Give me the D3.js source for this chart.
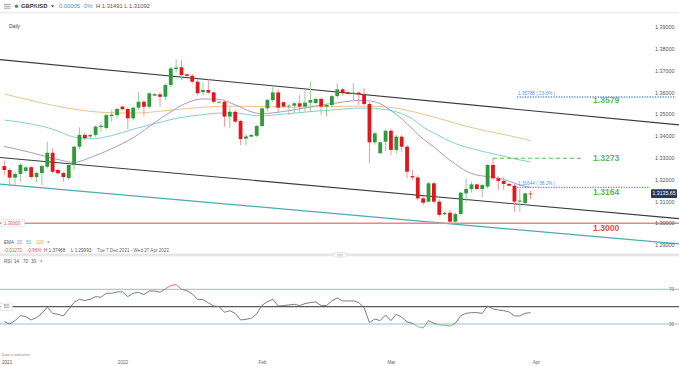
<!DOCTYPE html>
<html><head><meta charset="utf-8">
<script src="https://cdn.jsdelivr.net/npm/d3@7"></script>
<style>body{margin:0;background:#fff}svg{display:block;font-family:"Liberation Sans",Arial,sans-serif}</style>
</head><body><svg id="c" width="679" height="366"></svg>
<script>
// ---- data (daily candles, 7 Dec 2021 .. 31 Mar 2022, Saturdays excluded) ----
const openP  = [1.3262,1.3244,1.3209,1.3226,1.3240,1.3257,1.3212,1.3230,1.3259,1.3323,1.3244,1.3230,1.3207,1.3267,1.3351,1.3405,1.3398,1.3405,1.3441,1.3437,1.3492,1.3496,1.3535,1.3524,1.3481,1.3530,1.3557,1.3534,1.3585,1.3591,1.3580,1.3634,1.3707,1.3715,1.3683,1.3676,1.3649,1.3601,1.3611,1.3600,1.3553,1.3557,1.3489,1.3511,1.3469,1.3388,1.3397,1.3401,1.3446,1.3527,1.3565,1.3600,1.3555,1.3535,1.3539,1.3550,1.3535,1.3553,1.3551,1.3570,1.3535,1.3542,1.3583,1.3614,1.3600,1.3593,1.3599,1.3591,1.3547,1.3371,1.3321,1.3374,1.3424,1.3336,1.3397,1.3351,1.3216,1.3210,1.3114,1.3099,1.3183,1.3099,1.3041,1.3048,1.3007,1.3042,1.3137,1.3157,1.3178,1.3157,1.3168,1.3267,1.3206,1.3194,1.3180,1.3172,1.3099,1.3092,1.3136];
const highP  = [1.3287,1.3252,1.3236,1.3276,1.3262,1.3262,1.3238,1.3268,1.3374,1.3344,1.3248,1.3236,1.3270,1.3355,1.3440,1.3414,1.3410,1.3448,1.3465,1.3500,1.3519,1.3530,1.3538,1.3530,1.3535,1.3603,1.3565,1.3600,1.3596,1.3600,1.3640,1.3718,1.3752,1.3749,1.3687,1.3685,1.3660,1.3649,1.3660,1.3605,1.3560,1.3565,1.3534,1.3520,1.3475,1.3410,1.3408,1.3450,1.3530,1.3570,1.3626,1.3614,1.3558,1.3548,1.3555,1.3588,1.3611,1.3649,1.3575,1.3578,1.3550,1.3590,1.3642,1.3620,1.3604,1.3642,1.3605,1.3619,1.3555,1.3420,1.3375,1.3430,1.3435,1.3405,1.3405,1.3360,1.3244,1.3220,1.3125,1.3190,1.3190,1.3110,1.3052,1.3060,1.3050,1.3145,1.3205,1.3190,1.3182,1.3180,1.3272,1.3298,1.3215,1.3213,1.3185,1.3180,1.3157,1.3140,1.31491];
const lowP   = [1.3221,1.3167,1.3175,1.3190,1.3232,1.3203,1.3190,1.3175,1.3250,1.3229,1.3225,1.3190,1.3198,1.3244,1.3340,1.3380,1.3392,1.3395,1.3420,1.3430,1.3466,1.3480,1.3518,1.3432,1.3470,1.3520,1.3492,1.3525,1.3583,1.3535,1.3565,1.3625,1.3690,1.3657,1.3672,1.3640,1.3590,1.3588,1.3592,1.3550,1.3550,1.3443,1.3437,1.3460,1.3359,1.3357,1.3394,1.3395,1.3440,1.3515,1.3555,1.3507,1.3530,1.3496,1.3505,1.3511,1.3511,1.3511,1.3548,1.3496,1.3489,1.3530,1.3575,1.3585,1.3590,1.3565,1.3542,1.3540,1.3275,1.3360,1.3318,1.3331,1.3313,1.3320,1.3328,1.3206,1.3198,1.3106,1.3083,1.3095,1.3090,1.3030,1.3036,1.3000,1.2999,1.3035,1.3095,1.3140,1.3150,1.3119,1.3160,1.3200,1.3152,1.3152,1.3168,1.3053,1.3053,1.3085,1.31092];
const closeP = [1.3244,1.3209,1.3226,1.3268,1.3256,1.3212,1.3230,1.3262,1.3323,1.3236,1.3229,1.3212,1.3267,1.3351,1.3405,1.3390,1.3405,1.3443,1.3447,1.3496,1.3498,1.3524,1.3523,1.3481,1.3530,1.3557,1.3534,1.3596,1.3592,1.3580,1.3634,1.3710,1.3714,1.3680,1.3676,1.3649,1.3596,1.3611,1.3599,1.3557,1.3557,1.3489,1.3511,1.3466,1.3386,1.3398,1.3405,1.3446,1.3527,1.3565,1.3600,1.3530,1.3535,1.3539,1.3550,1.3535,1.3553,1.3565,1.3570,1.3535,1.3542,1.3583,1.3614,1.3596,1.3593,1.3599,1.3591,1.3547,1.3371,1.3412,1.3371,1.3424,1.3336,1.3397,1.3351,1.3236,1.3210,1.3114,1.3094,1.3183,1.3099,1.3038,1.3048,1.3007,1.3042,1.3140,1.3157,1.3178,1.3157,1.3175,1.3267,1.3206,1.3194,1.3180,1.3172,1.3099,1.3104,1.3137,1.31356];

const rsiValues = [32.7,30.0,33.9,39.7,38.5,34.7,37.3,42.3,49.3,42.3,41.2,39.3,47.0,55.0,58.5,57.0,58.5,61.6,60.8,65.4,65.4,67.0,67.0,61.6,65.4,66.6,63.9,68.1,68.1,66.6,70.4,74.3,75.4,70.0,68.5,64.6,58.5,58.1,54.3,50.8,50.0,43.5,45.4,42.3,34.7,35.4,36.6,41.6,51.6,55.8,58.5,50.8,51.2,52.0,52.7,51.2,53.5,54.7,55.4,51.2,51.2,56.6,60.0,56.6,56.6,56.6,54.7,48.9,31.6,35.8,33.9,40.4,33.9,41.2,37.7,32.4,30.8,27.0,25.4,33.9,30.8,28.9,28.5,27.7,30.8,39.7,42.3,43.1,43.1,42.3,50.8,47.3,46.2,45.4,43.9,39.3,39.3,42.3,43.1];

// EMA curves (candle index, price)
const ema20Idx = [0,5,10,13,16,20,24,28,31,34,37,40,43,46,48,50,54,58,62,66,68,70,72,74,76,78,80,82,84,86,88,90,92,94,96,98];
const ema20Val = [1.3352,1.3324,1.3292,1.3279,1.3301,1.3342,1.3392,1.3461,1.3511,1.3552,1.3570,1.3568,1.3543,1.3511,1.3502,1.3506,1.3520,1.3538,1.3552,1.3563,1.3561,1.3548,1.3516,1.3480,1.3432,1.3386,1.3350,1.3308,1.3271,1.3239,1.3221,1.3214,1.3207,1.3193,1.3175,1.3165];
const ema50Idx = [0,5,10,12,14,17,20,24,28,31,34,37,40,43,46,48,50,54,58,62,66,68,70,72,74,76,78,80,82,84,86,88,90,92,94,96,98];
const ema50Val = [1.3473,1.3455,1.3423,1.3402,1.3391,1.3389,1.3402,1.3431,1.3456,1.3475,1.3489,1.3498,1.3505,1.3505,1.3496,1.3492,1.3496,1.3505,1.3514,1.3521,1.3528,1.3528,1.3524,1.3517,1.3503,1.3478,1.3441,1.3414,1.3388,1.3365,1.3349,1.3336,1.3324,1.3313,1.3301,1.3290,1.3281];
const ema100Idx = [0,6,12,18,24,30,36,42,48,54,60,66,70,74,78,82,86,90,94,98];
const ema100Val = [1.3593,1.3557,1.3527,1.3509,1.3505,1.3516,1.3530,1.3537,1.3535,1.3532,1.3535,1.3537,1.3535,1.3523,1.3500,1.3473,1.3445,1.3422,1.3402,1.3379];

// trend channel lines: [index, price] end points
const channelUpper = [[-1,1.3751],[126,1.3450]];
const channelMid   = [[-1,1.3302],[126,1.3020]];
const channelLow   = [[-1,1.3180],[126,1.2904]];

const priceTicks = [1.39,1.38,1.37,1.36,1.35,1.34,1.33,1.32,1.31,1.30,1.29];
const xTickIdx = [22,48,72,99];
const xTickLabels = ["2022","Feb","Mar","Apr"];
const rsiLevels = [70,50,30];

const fibLevels = [{p:1.35788,label:"1.35788 ( 23.6% )"},{p:1.31644,label:"1.31644 ( 38.2% )"}];
const resistLevel = 1.3298;
const supportLevel = 1.30;
const levelLabels = [{t:"1.3579",p:1.3565},{t:"1.3273",p:1.3300},{t:"1.3164",p:1.3141},{t:"1.3000",p:1.2979}];
const lastPrice = 1.31356;

// ---- drawing ----
const svg = d3.select("#c");
const W = 679;
const x = d3.scaleLinear().domain([0,98]).range([4.3, 4.3+5.37*98]);
const y = d3.scaleLinear().domain([1.29,1.39]).range([245,27]);
const ry = d3.scaleLinear().domain([30,70]).range([324,289.3]);

const defs = svg.append("defs");
defs.append("clipPath").attr("id","mainClip").append("rect").attr("x",0).attr("y",14).attr("width",W).attr("height",239);
defs.append("clipPath").attr("id","rsiMid").append("rect").attr("x",0).attr("y",ry(70)).attr("width",W).attr("height",ry(30)-ry(70));
defs.append("clipPath").attr("id","rsiHi").append("rect").attr("x",0).attr("y",258).attr("width",W).attr("height",ry(70)-258);
defs.append("clipPath").attr("id","rsiLo").append("rect").attr("x",0).attr("y",ry(30)).attr("width",W).attr("height",30);

// header
const hdr = svg.append("g").attr("font-size",5.8);
[4.4,6.3,8.2].forEach(v=>hdr.append("line").attr("x1",4).attr("x2",10.5).attr("y1",v).attr("y2",v).attr("stroke","#8a8a8a").attr("stroke-width",0.8));
hdr.append("circle").attr("cx",16.5).attr("cy",6.3).attr("r",1.8).attr("fill","#2fa84f");
hdr.append("text").attr("x",21).attr("y",6.3).attr("dy","0.35em").attr("fill","#333").attr("font-weight","bold").text("GBP/USD");
hdr.append("path").attr("d","M51,5.3 L54.4,5.3 L52.7,7.5 Z").attr("fill","#555");
hdr.append("text").attr("x",59).attr("y",6.3).attr("dy","0.35em").attr("fill","#4a8fdc").text("0.00005");
hdr.append("text").attr("x",84).attr("y",6.3).attr("dy","0.35em").attr("fill","#4a8fdc").text("0%");
hdr.append("text").attr("x",96).attr("y",6.3).attr("dy","0.35em").attr("fill","#555").text("H 1.31491  L 1.31092");
svg.append("line").attr("x1",0).attr("x2",W).attr("y1",12.8).attr("y2",12.8).attr("stroke","#e4e4e4").attr("stroke-width",1);
svg.append("text").attr("x",9).attr("y",26.7).attr("dy","0.35em").attr("font-size",5).attr("fill","#444").text("Daily");

// main panel
const main = svg.append("g").attr("clip-path","url(#mainClip)");
const ln = d3.line().x(d=>x(d[0])).y(d=>y(d[1]));
main.append("path").attr("d",ln(channelLow)).attr("stroke","#4aabb0").attr("stroke-width",1.2).attr("fill","none");
main.append("path").attr("d",ln(channelMid)).attr("stroke","#3a3a3a").attr("stroke-width",1.1).attr("fill","none");
main.append("path").attr("d",ln(channelUpper)).attr("stroke","#3a3a3a").attr("stroke-width",1.1).attr("fill","none");

const curve = d3.line().curve(d3.curveMonotoneX).x(d=>x(d[0])).y(d=>y(d[1]));
main.append("path").attr("d",curve(d3.zip(ema100Idx,ema100Val))).attr("stroke","#e8c48e").attr("stroke-width",1).attr("fill","none");
main.append("path").attr("d",curve(d3.zip(ema50Idx,ema50Val))).attr("stroke","#86cdd3").attr("stroke-width",1).attr("fill","none");
main.append("path").attr("d",curve(d3.zip(ema20Idx,ema20Val))).attr("stroke","#a89ac8").attr("stroke-width",1).attr("fill","none");

// support line 1.30
main.append("line").attr("x1",0).attr("x2",W).attr("y1",y(supportLevel)).attr("y2",y(supportLevel)).attr("stroke","#ec8585").attr("stroke-width",1.6);

// fib dotted lines
fibLevels.forEach((f,k)=>{
  main.append("line").attr("x1",517).attr("x2",k===0?676:650).attr("y1",y(f.p)).attr("y2",y(f.p))
    .attr("stroke","#5b93d8").attr("stroke-width",1.3).attr("stroke-dasharray","1.3,1.3");
  main.append("text").attr("x",518).attr("y",y(f.p)-3.6).attr("dy","0.35em").attr("font-size",4.7).attr("fill","#5b93d8").text(f.label);
});
// resistance dashed
main.append("line").attr("x1",x(91)).attr("x2",583).attr("y1",y(resistLevel)).attr("y2",y(resistLevel))
  .attr("stroke","#5cb85c").attr("stroke-width",1.2).attr("stroke-dasharray","4,3");

// candles
const candles = d3.range(openP.length).map(i=>({i,o:openP[i],h:highP[i],l:lowP[i],c:closeP[i]}));
const cg = main.append("g");
cg.selectAll("line.w").data(candles).join("line").attr("class","w")
  .attr("x1",d=>x(d.i)).attr("x2",d=>x(d.i)).attr("y1",d=>y(d.h)).attr("y2",d=>y(d.l))
  .attr("stroke",d=>d.c>=d.o?"#93cf93":"#f29696").attr("stroke-width",1);
const bw = 3.8;
cg.selectAll("rect").data(candles).join("rect")
  .attr("x",d=>x(d.i)-bw/2).attr("width",bw)
  .attr("y",d=>y(Math.max(d.o,d.c)))
  .attr("height",d=>Math.max(0.8,Math.abs(y(d.o)-y(d.c))))
  .attr("fill",d=>d.c>=d.o?"#2f9a3a":"#e3161d");

// level labels
levelLabels.forEach(l=>{
  svg.append("text").attr("x",593).attr("y",y(l.p)).attr("dy","0.35em").attr("font-size",8.6).attr("font-weight","bold")
    .attr("fill",l.t==="1.3000"?"#e24c4c":"#5cb85c").text(l.t);
});

// left 1.30000 tag
svg.append("rect").attr("x",1.5).attr("y",y(supportLevel)-3.6).attr("width",23).attr("height",7.2).attr("fill","#fff").attr("stroke","#dcdcdc").attr("stroke-width",0.6);
svg.append("text").attr("x",4).attr("y",y(supportLevel)).attr("dy","0.35em").attr("font-size",4.5).attr("fill","#e05555").text("1.30000");

// price axis
const pa = svg.append("g").attr("transform","translate(652,0)")
  .call(d3.axisRight(y).tickValues(priceTicks).tickFormat(d3.format(".5f")).tickSize(0).tickPadding(3));
pa.select(".domain").remove();
pa.selectAll("text").attr("font-size",5.4).attr("fill","#555").attr("font-family","Liberation Sans, Arial, sans-serif");

// last price box
svg.append("rect").attr("x",651).attr("y",y(lastPrice)-4.3).attr("width",26).attr("height",8.6).attr("fill","#2a3a55").attr("rx",0.8);
svg.append("text").attr("x",664).attr("y",y(lastPrice)).attr("dy","0.35em").attr("text-anchor","middle").attr("font-size",5.2).attr("fill","#fff").text("1.3135.65");

// legend
const lg = svg.append("g").attr("font-size",4.6);
const leg1 = [["EMA",4,"#555"],["20",17,"#8e7cc3"],["50",26,"#45b3c0"],["100",36,"#e2a540"],["×",47,"#777"]];
leg1.forEach(a=>lg.append("text").attr("x",a[1]).attr("y",242.7).attr("dy","0.35em").attr("fill",a[2]).text(a[0]));
const leg2 = [["-0.01270",4,"#e05050"],["-0.96%",27,"#e05050"],["H 1.37468",44,"#555"],["L 1.29993",71,"#555"],["Tue 7 Dec 2021 - Wed 27 Apr 2022",97,"#666"]];
leg2.forEach(a=>lg.append("text").attr("x",a[1]).attr("y",250.7).attr("dy","0.35em").attr("fill",a[2]).text(a[0]));

// separator
svg.append("rect").attr("x",0).attr("y",253.5).attr("width",W).attr("height",2.8).attr("fill","#e6e6e6");
svg.append("rect").attr("x",334).attr("y",252.6).attr("width",12).attr("height",4.6).attr("rx",1).attr("fill","#fafafa").attr("stroke","#cfcfcf").attr("stroke-width",0.5);
[254.2,255.0,255.8].forEach(v=>svg.append("line").attr("x1",337).attr("x2",343).attr("y1",v).attr("y2",v).attr("stroke","#aaa").attr("stroke-width",0.35));

// RSI panel
const leg3 = [["RSI",4,"#555"],["14",14,"#555"],["70",23,"#555"],["30",31,"#555"],["×",40,"#777"]];
leg3.forEach(a=>lg.append("text").attr("x",a[1]).attr("y",261.7).attr("dy","0.35em").attr("fill",a[2]).text(a[0]));

rsiLevels.forEach(v=>{
  svg.append("line").attr("x1",0).attr("x2",W).attr("y1",ry(v)).attr("y2",ry(v))
    .attr("stroke",v===50?"#5a5a5a":"#9db8d8").attr("stroke-width",v===50?1.3:1);
});
const rl = d3.line().x((d,i)=>x(i)).y(d=>ry(d));
const rsiPath = rl(rsiValues);
svg.append("path").attr("d",rsiPath).attr("clip-path","url(#rsiMid)").attr("stroke","#6e6e6e").attr("stroke-width",0.9).attr("fill","none");
svg.append("path").attr("d",rsiPath).attr("clip-path","url(#rsiHi)").attr("stroke","#ee5a5a").attr("stroke-width",0.9).attr("fill","none");
svg.append("path").attr("d",rsiPath).attr("clip-path","url(#rsiLo)").attr("stroke","#5cbf5c").attr("stroke-width",0.9).attr("fill","none");

[70,30].forEach(v=>svg.append("text").attr("x",669).attr("y",ry(v)).attr("dy","0.35em").attr("font-size",4.5).attr("fill","#777").text(v));
svg.append("rect").attr("x",0.5).attr("y",ry(50)-3.6).attr("width",12).attr("height",7.2).attr("fill","#fff").attr("stroke","#d5d5d5").attr("stroke-width",0.5);
svg.append("text").attr("x",6.5).attr("y",ry(50)).attr("dy","0.35em").attr("text-anchor","middle").attr("font-size",4.5).attr("fill","#777").text("50");

// bottom
svg.append("text").attr("x",2).attr("y",355).attr("dy","0.35em").attr("font-size",3.7).attr("fill","#888").text("Data is indicative");
const xa = svg.append("g").attr("transform","translate(0,362.7)")
  .call(d3.axisBottom(x).tickValues(xTickIdx).tickFormat((d,k)=>xTickLabels[k]).tickSize(0).tickPadding(0));
xa.select(".domain").remove();
xa.selectAll("text").attr("y",0).attr("dy","0.35em").attr("font-size",4.6).attr("fill","#666").attr("font-family","Liberation Sans, Arial, sans-serif");
svg.append("text").attr("x",2).attr("y",362.7).attr("dy","0.35em").attr("font-size",4.6).attr("fill","#555").text("2021");
</script></body></html>
